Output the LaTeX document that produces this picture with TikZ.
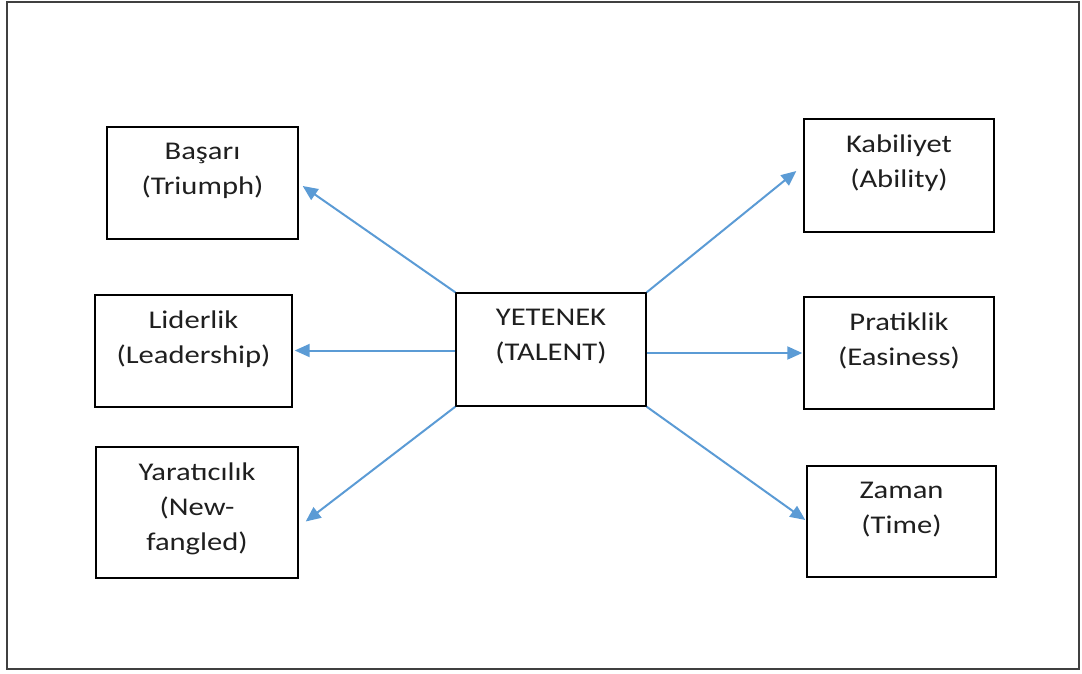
\documentclass[tikz,border=0pt]{standalone}
\usepackage{fontspec}
\setmainfont{Carlito}[FakeStretch=1.2]
\usetikzlibrary{arrows.meta}
\definecolor{linkblue}{HTML}{5B9BD5}
\definecolor{inktext}{HTML}{1F1F1F}
\definecolor{framegray}{HTML}{404040}
\tikzset{
  box/.style={draw=black, line width=1.4pt, inner sep=0pt},
  txt/.style={anchor=north, yshift=-16.5pt, inner sep=0pt, align=center,
    text=inktext, font=\fontsize{25.5}{35}\selectfont},
  link/.style={draw=linkblue, line width=2pt,
    -{Triangle[length=15pt,width=13pt]}},
}
\begin{document}
\begin{tikzpicture}[x=1pt,y=-1pt]
  \useasboundingbox (0,0) rectangle (1082,673);
  % outer frame
  \draw[framegray, line width=2.5pt] (7,2) rectangle (1079,669);

  % central box
  \node[box, minimum width=190pt, minimum height=113pt,
        label={[txt]north:{YETENEK\\(TALENT)}}] (yetenek) at (551,349.5) {};

  % left column
  \node[box, minimum width=191pt, minimum height=112pt,
        label={[txt]north:{Başarı\\(Triumph)}}] (basari) at (202.5,183) {};
  \node[box, minimum width=197pt, minimum height=112pt,
        label={[txt]north:{Liderlik\\(Leadership)}}] (liderlik) at (193.5,351) {};
  \node[box, minimum width=202pt, minimum height=131pt,
        label={[txt]north:{Yaratıcılık\\(New-\\fangled)}}] (yaraticilik) at (197,512.5) {};

  % right column
  \node[box, minimum width=190pt, minimum height=113pt,
        label={[txt]north:{Kabiliyet\\(Ability)}}] (kabiliyet) at (899,175.5) {};
  \node[box, minimum width=190pt, minimum height=112pt,
        label={[txt]north:{Pratiklik\\(Easiness)}}] (pratiklik) at (899,353) {};
  \node[box, minimum width=189pt, minimum height=111pt,
        label={[txt]north:{Zaman\\(Time)}}] (zaman) at (901.5,521.5) {};

  % start points of the horizontal connectors
  \coordinate (wstart) at ([yshift=-1pt]yetenek.west);
  \coordinate (estart) at ([yshift=-3.5pt]yetenek.east);

  % connectors
  \draw[link] (yetenek.north west) -- ([xshift=4pt,yshift=-3pt]basari.east);
  \draw[link] (wstart) -- ([xshift=2pt]liderlik.east |- wstart);
  \draw[link] (yetenek.south west) -- ([xshift=7pt,yshift=-9pt]yaraticilik.east);
  \draw[link] (yetenek.north east) -- ([xshift=-7pt,yshift=4.5pt]kabiliyet.west);
  \draw[link] (estart) -- ([xshift=-1pt]pratiklik.west |- estart);
  \draw[link] (yetenek.south east) -- ([xshift=-1pt,yshift=1.5pt]zaman.west);
\end{tikzpicture}
\end{document}
